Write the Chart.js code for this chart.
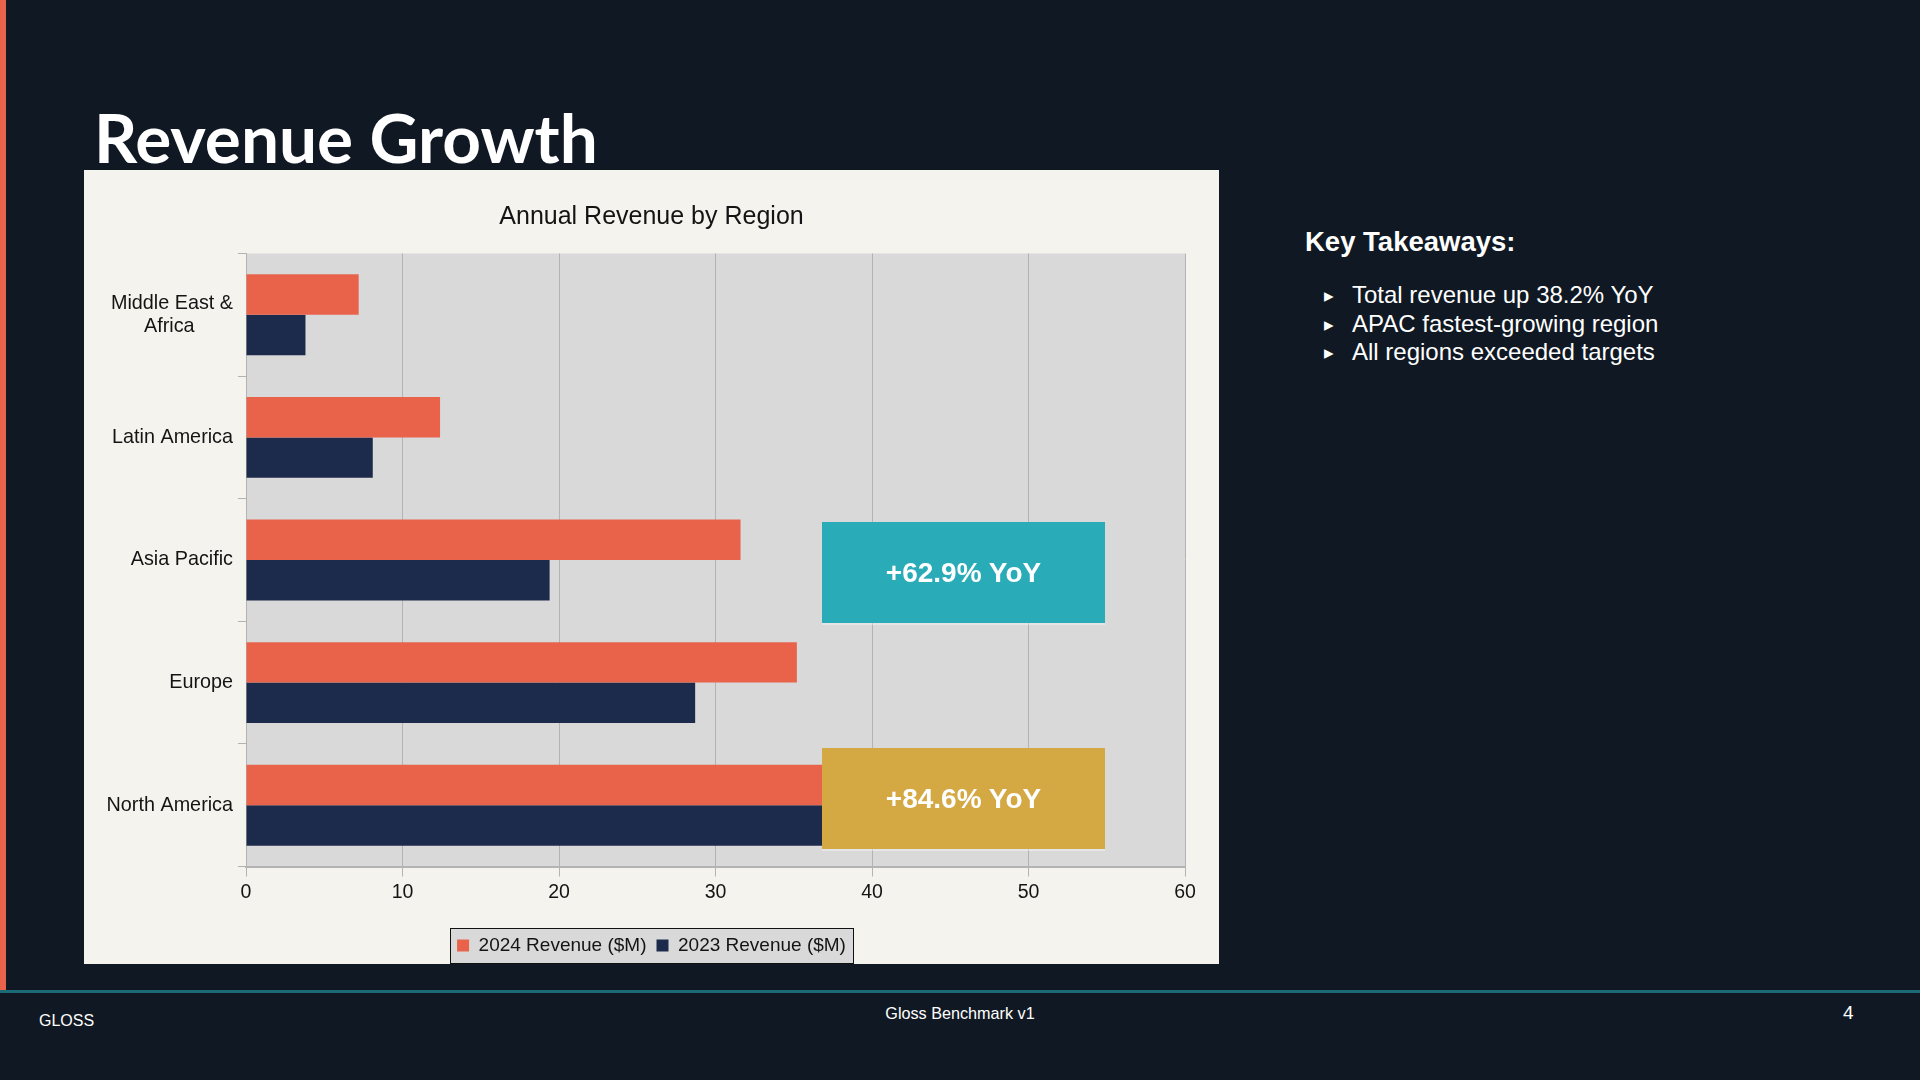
<!DOCTYPE html>
<html>
<head>
<meta charset="utf-8">
<title>Revenue Growth</title>
<script src="https://cdn.jsdelivr.net/npm/chart.js@4.4.1/dist/chart.umd.min.js"></script>
<style>
  html, body { margin: 0; padding: 0; background: #101923; }
  #slide { position: relative; width: 1920px; height: 1080px; background: #101923; overflow: hidden; font-family: "Liberation Sans", Arial, sans-serif; }
  #stripe { position: absolute; left: 0; top: 0; width: 6px; height: 991px; background: #e8634a; }
  #footline { position: absolute; left: 0; top: 990px; width: 1920px; height: 3px; background: #1b6b76; }
  #title { position: absolute; left: 94px; top: 97px; margin: 0; color: #fff; font-family: Lato, "Open Sans", sans-serif; font-weight: 700; font-size: 67.5px; line-height: 80px; white-space: nowrap; }
  #panel { position: absolute; left: 84px; top: 170px; width: 1135px; height: 794px; background: #f4f3ee; }
  .callout { position: absolute; width: 283px; color: #fff; font-weight: 700; font-size: 28px; display: flex; align-items: center; justify-content: center; box-shadow: 0 2px 0 rgba(255,255,255,0.35); }
  #apac { left: 822px; top: 522px; height: 101px; background: #2aabb8; }
  #na { left: 822px; top: 748px; height: 101px; background: #d4a843; }
  #side { position: absolute; left: 1305px; top: 226px; color: #fff; }
  #side h3 { margin: 0 0 23px 0; font-size: 27.5px; font-weight: 700; }
  #side ul { list-style: none; margin: 0; padding: 0; }
  #side li { position: relative; padding-left: 47px; font-size: 24px; line-height: 28.7px; }
  #side li::before { content: "\25B8"; position: absolute; left: 19px; top: 1px; font-size: 19px; }
  .foot { position: absolute; color: #fff; white-space: nowrap; }
  #f1 { left: 39px; top: 1012px; font-size: 16px; }
  #f2 { left: 0; width: 1920px; text-align: center; top: 1004px; font-size: 16.2px; }
  #f3 { left: 1843px; top: 1002px; font-size: 19px; }
</style>
</head>
<body>
<div id="slide">
  <div id="stripe"></div>
  <h1 id="title">Revenue Growth</h1>
  <div id="panel"><canvas id="grafico" width="1135" height="794"></canvas></div>
  <div class="callout" id="apac">+62.9% YoY</div>
  <div class="callout" id="na">+84.6% YoY</div>
  <div id="side">
    <h3>Key Takeaways:</h3>
    <ul id="lista"></ul>
  </div>
  <div id="footline"></div>
  <div class="foot" id="f1">GLOSS</div>
  <div class="foot" id="f2">Gloss Benchmark v1</div>
  <div class="foot" id="f3">4</div>
</div>
<script>
// datos del grafico (en millones de dolares)
const regiones = [["Middle East &", "Africa"], "Latin America", "Asia Pacific", "Europe", "North America"];
const ingresos2024 = [7.2, 12.4, 31.6, 35.2, 48.9];
const ingresos2023 = [3.8, 8.1, 19.4, 28.7, 37.9];
const serieNombres = ["2024 Revenue ($M)", "2023 Revenue ($M)"];
const ejeX = { min: 0, max: 60, paso: 10 };
const puntosClave = ["Total revenue up 38.2% YoY", "APAC fastest-growing region", "All regions exceeded targets"];

const fuente = '"Liberation Sans", Arial, sans-serif';
const textoOscuro = "#141414";
const tamEtiquetas = 19.8;

// lista de conclusiones
document.querySelector("#lista").innerHTML = puntosClave.map((t) => `<li>${t}</li>`).join("");

// centramos las lineas de etiquetas de varias lineas (rellenando con espacios)
const medidor = document.createElement("canvas").getContext("2d");
medidor.font = tamEtiquetas + "px " + fuente;
function centrarLineas(lineas) {
  if (!Array.isArray(lineas)) return lineas;
  const anchos = lineas.map((l) => medidor.measureText(l).width);
  const maximo = Math.max(...anchos);
  const espacio = medidor.measureText(" ").width;
  return lineas.map((l, i) => l + " ".repeat(Math.round((maximo - anchos[i]) / 2 / espacio)));
}

// fondo del area de trazado y recuadro de la leyenda
const fondos = {
  id: "fondos",
  afterLayout(chart) {
    // corremos un poco la leyenda y el titulo para que queden centrados en el panel
    chart.legend.left += 6;
    chart.legend.right += 6;
    chart.legend.top += 1;
    chart.legend.bottom += 1;
    chart.titleBlock.left += 6;
    chart.titleBlock.right += 6;
  },
  beforeDraw(chart) {
    const { ctx, chartArea: a } = chart;
    ctx.save();
    ctx.fillStyle = "#d9d9d9";
    ctx.fillRect(a.left, a.top, a.right - a.left, a.bottom - a.top);
    const cajas = chart.legend.legendHitBoxes;
    if (cajas && cajas.length) {
      const primera = cajas[0];
      const ultima = cajas[cajas.length - 1];
      const x1 = Math.round(primera.left - 7) + 0.5;
      const x2 = Math.round(ultima.left + ultima.width + 7) + 0.5;
      const y1 = Math.round(primera.top - 8) + 0.5;
      const y2 = Math.round(primera.top + primera.height + 8) + 0.5;
      ctx.fillStyle = "#d9d9d9";
      ctx.fillRect(x1, y1, x2 - x1, y2 - y1);
      ctx.strokeStyle = "#111111";
      ctx.lineWidth = 1;
      ctx.strokeRect(x1, y1, x2 - x1, y2 - y1);
    }
    ctx.restore();
  },
};

const grafica = new Chart(document.querySelector("#grafico"), {
  type: "bar",
  data: {
    labels: regiones,
    datasets: [
      { label: serieNombres[0], data: ingresos2024, backgroundColor: "#e9634b" },
      { label: serieNombres[1], data: ingresos2023, backgroundColor: "#1c2a4b" },
    ],
  },
  options: {
    indexAxis: "y",
    responsive: false,
    animation: false,
    devicePixelRatio: 1,
    categoryPercentage: 0.66,
    barPercentage: 1.0,
    layout: { padding: { left: 22, right: 34, top: 0, bottom: 0 } },
    plugins: {
      title: {
        display: true,
        text: "Annual Revenue by Region",
        color: textoOscuro,
        font: { family: fuente, size: 25, weight: "normal" },
        padding: { top: 32.5, bottom: 21 },
      },
      legend: {
        position: "bottom",
        labels: {
          color: textoOscuro,
          font: { family: fuente, size: 19 },
          boxWidth: 12,
          boxHeight: 12,
          padding: 10,
        },
      },
      tooltip: { enabled: false },
    },
    scales: {
      x: {
        min: ejeX.min,
        max: ejeX.max,
        ticks: { stepSize: ejeX.paso, color: textoOscuro, font: { family: fuente, size: 19.5 }, padding: 4 },
        grid: { color: "#b3b3b3", tickLength: 10 },
        border: { color: "#b3b3b3", width: 2 },
        afterFit: (escala) => { escala.height = 58.5; },
      },
      y: {
        ticks: {
          color: textoOscuro,
          font: { family: fuente, size: tamEtiquetas, lineHeight: 1.18 },
          padding: 5,
          callback: function (valor) { return centrarLineas(this.getLabelForValue(valor)); },
        },
        grid: { drawOnChartArea: false, color: "#b3b3b3", tickLength: 8, offset: true },
        border: { color: "#b3b3b3", width: 1 },
        afterFit: (escala) => { escala.width = 140; },
      },
    },
  },
  plugins: [fondos],
});
</script>
</body>
</html>
